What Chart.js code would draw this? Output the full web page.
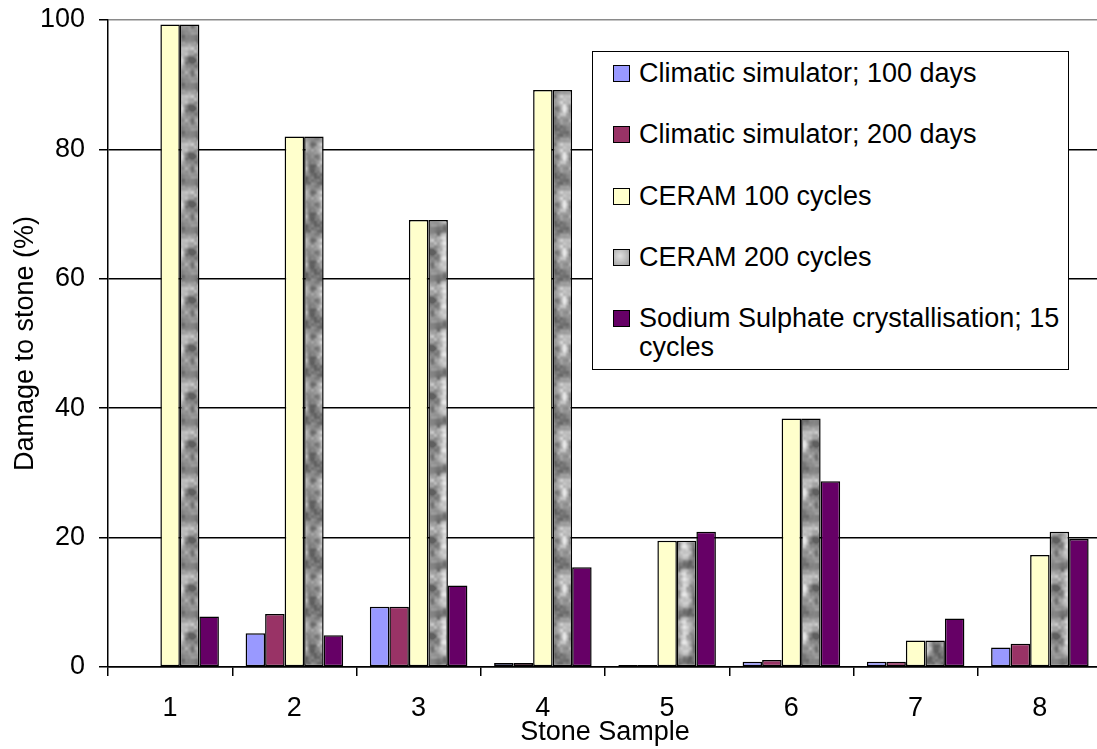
<!DOCTYPE html>
<html><head><meta charset="utf-8">
<script src="https://cdn.jsdelivr.net/npm/chart.js@4.4.0/dist/chart.umd.min.js"></script>
<style>
html,body{margin:0;padding:0;background:#fff;overflow:hidden;}
#wrap{position:relative;width:1102px;height:749px;}
#legend{position:absolute;left:592px;top:51px;width:477px;height:319px;border:1.5px solid #000;background:#fff;
  font-family:"Liberation Sans",Arial,sans-serif;font-size:27px;color:#000;padding-top:7px;box-sizing:border-box;}
.item{display:flex;align-items:flex-start;margin-left:20px;margin-bottom:32.3px;line-height:29px;}
.sw{width:15px;height:15px;border:1.2px solid #000;margin-top:6px;margin-right:9px;flex:none;}
.txt{width:425px;}
</style></head>
<body>
<div id="wrap"><canvas id="c" width="1102" height="749"></canvas><div id="legend"></div></div>
<script>
const categories = ['1','2','3','4','5','6','7','8'];
const seriesLabels = ['Climatic simulator; 100 days','Climatic simulator; 200 days','CERAM 100 cycles','CERAM 200 cycles','Sodium Sulphate crystallisation; 15 cycles'];
const climatic100 = [0, 5.2, 9.3, 0.6, 0.3, 0.8, 0.8, 3.0];
const climatic200 = [0, 8.2, 9.3, 0.6, 0.3, 1.1, 0.8, 3.6];
const ceram100   = [99.3, 82.0, 69.1, 89.2, 19.5, 38.4, 4.1, 17.3];
const ceram200   = [99.3, 82.0, 69.1, 89.2, 19.5, 38.4, 4.1, 20.9];
const sodium     = [7.8, 4.9, 12.6, 15.4, 20.9, 28.7, 7.5, 19.8];
const yTicks = [0, 20, 40, 60, 80, 100];

// mottled grey texture for CERAM 200 cycles (deterministic value noise, two octaves)
function makeTexture(){
  const s = 48, cv = document.createElement('canvas');
  cv.width = s; cv.height = s;
  const g = cv.getContext('2d');
  const img = g.createImageData(s, s);
  const sm = t => t * t * (3 - 2 * t);
  function noise(x, y, cell, seed){
    const n = s / cell;
    const h = (i, j) => { i = ((i % n) + n) % n; j = ((j % n) + n) % n; const t = Math.sin(i * 127.1 + j * 311.7 + seed) * 43758.5453; return t - Math.floor(t); };
    const gx = x / cell, gy = y / cell, i = Math.floor(gx), j = Math.floor(gy);
    const fx = sm(gx - i), fy = sm(gy - j);
    return (h(i, j) * (1 - fx) + h(i + 1, j) * fx) * (1 - fy) + (h(i, j + 1) * (1 - fx) + h(i + 1, j + 1) * fx) * fy;
  }
  for (let y = 0; y < s; y++) for (let x = 0; x < s; x++) {
    const v = 0.55 * noise(x, y, 12, 1.7) + 0.3 * noise(x, y, 6, 4.1) + 0.15 * noise(x, y, 3, 9.3);
    const col = Math.max(95, Math.min(232, Math.round(40 + v * 230)));
    const k = (y * s + x) * 4;
    img.data[k] = col; img.data[k + 1] = col; img.data[k + 2] = col; img.data[k + 3] = 255;
  }
  g.putImageData(img, 0, 0);
  return g.createPattern(cv, 'repeat');
}
const texture = makeTexture();

const colors = ['#9999FF', '#993366', '#FFFFCC', texture, '#660066'];
const seriesData = [climatic100, climatic200, ceram100, ceram200, sodium];

const FONT = {family: '"Liberation Sans", Arial, sans-serif', size: 27};

const chart = new Chart(document.getElementById('c'), {
  type: 'bar',
  data: {
    labels: categories,
    datasets: seriesData.map((d, i) => ({
      label: seriesLabels[i], data: d, backgroundColor: colors[i],
      borderColor: '#000', borderWidth: 1.5, borderSkipped: false,
      barPercentage: 1, categoryPercentage: 0.785
    }))
  },
  options: {
    responsive: false, animation: false, devicePixelRatio: 1,
    layout: {padding: {top: 20, left: 0, right: 0, bottom: 0}},
    plugins: {legend: {display: false}, tooltip: {enabled: false}},
    scales: {
      x: {
        grid: {display: true, offset: true, drawOnChartArea: false, drawTicks: true, tickLength: 9, color: '#000', lineWidth: 1.5},
        border: {display: true, color: '#000', width: 1.5},
        ticks: {color: '#000', font: FONT, padding: 16, maxRotation: 0},
        title: {display: true, text: 'Stone Sample', color: '#000', font: FONT, padding: {top: 0, bottom: 0}},
        afterFit: s => { s.height = 82; s.paddingLeft = 0; s.paddingRight = 0; }
      },
      y: {
        min: 0, max: 100,
        afterBuildTicks: s => { s.ticks = yTicks.map(v => ({value: v})); },
        grid: {color: ctx => (ctx.tick && ctx.tick.value === 100) ? '#8a8a8a' : '#000', lineWidth: 1.5, tickLength: 9, tickColor: '#000', tickWidth: 1.5},
        border: {display: true, color: '#000', width: 1.5},
        ticks: {color: '#000', font: FONT, padding: 14},
        title: {display: true, text: 'Damage to stone (%)', color: '#000', font: FONT, padding: {top: 9, bottom: 0}},
        afterFit: s => { s.width = 108; s.paddingTop = 0; s.paddingBottom = 0; }
      }
    }
  }
});

// HTML legend from chart datasets
const leg = document.getElementById('legend');
chart.data.datasets.forEach((ds, i) => {
  const it = document.createElement('div'); it.className = 'item';
  const sw = document.createElement('div'); sw.className = 'sw';
  sw.style.background = (typeof ds.backgroundColor === 'string') ? ds.backgroundColor : 'radial-gradient(circle at 40% 40%, #e0e0e0, #9a9a9a)';
  const tx = document.createElement('div'); tx.className = 'txt'; tx.textContent = ds.label;
  it.appendChild(sw); it.appendChild(tx); leg.appendChild(it);
});
</script>
</body></html>
